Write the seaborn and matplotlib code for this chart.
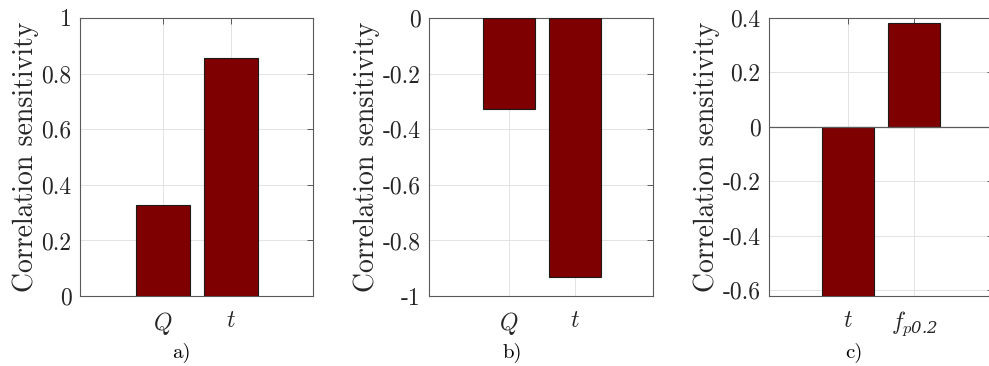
import matplotlib
matplotlib.use("Agg")
import matplotlib.pyplot as plt
import seaborn as sns
import pandas as pd

# ---- data ----
cats_a = ["$Q$", "$t$"]
vals_a = [0.327, 0.855]
cats_b = ["$Q$", "$t$"]
vals_b = [-0.327, -0.93]
cats_c = ["$t$", "$f_{p\\mathsf{0.2}}$"]
vals_c = [-0.63, 0.38]

yticks_a = [0, 0.2, 0.4, 0.6, 0.8, 1]
ylabels_a = ["0", "0.2", "0.4", "0.6", "0.8", "1"]
yticks_b = [-1, -0.8, -0.6, -0.4, -0.2, 0]
ylabels_b = ["-1", "-0.8", "-0.6", "-0.4", "-0.2", "0"]
yticks_c = [-0.6, -0.4, -0.2, 0, 0.2, 0.4]
ylabels_c = ["-0.6", "-0.4", "-0.2", "0", "0.2", "0.4"]
panel_labels = ["a)", "b)", "c)"]

sns.set_theme(style="white")
plt.rcParams["font.family"] = ["cmr10", "DejaVu Serif"]
plt.rcParams["mathtext.fontset"] = "custom"
plt.rcParams["mathtext.rm"] = "cmr10"
plt.rcParams["mathtext.it"] = "cmmi10"
plt.rcParams["mathtext.sf"] = "DejaVu Serif:italic"
plt.rcParams["axes.unicode_minus"] = False

fig = plt.figure(figsize=(9.89, 3.66), dpi=100)

bar_color = "#7f0000"
spine_col = "#5a5a5a"

specs = [
    (cats_a, vals_a, yticks_a, ylabels_a, (0.0, 1.0), (-1.22, 2.21),
     [80 / 989, 0.191, 233 / 989, 0.760]),
    (cats_b, vals_b, yticks_b, ylabels_b, (-1.0, 0.0), (-1.21, 2.18),
     [429 / 989, 0.191, 224 / 989, 0.760]),
    (cats_c, vals_c, yticks_c, ylabels_c, (-0.622, 0.4), (-1.2, 2.2),
     [769 / 989, 0.191, 224 / 989, 0.760]),
]

label_x = [181 / 989, 512 / 989, 854 / 989]

for i, (cats, vals, yt, yl, ylim, xlim, pos) in enumerate(specs):
    ax = fig.add_axes(pos)
    df = pd.DataFrame({"cat": cats, "val": vals})
    sns.barplot(data=df, x="cat", y="val", color=bar_color, saturation=1,
                edgecolor="#1a1a1a", linewidth=0.8, width=0.8, ax=ax, zorder=3)
    ax.set_xlim(*xlim)
    ax.set_ylim(*ylim)
    ax.set_yticks(yt)
    ax.set_yticklabels(yl)
    ax.set_xlabel("")
    ax.set_ylabel("Correlation sensitivity", fontsize=20, color="#262626",
                  labelpad=2)
    ax.grid(True, color="#e3e3e3", linewidth=0.7, zorder=0)
    ax.set_axisbelow(True)
    ax.tick_params(axis="both", direction="in", length=4, width=0.7,
                   colors=spine_col, labelcolor="#262626", labelsize=17,
                   top=True, right=True, pad=6)
    ax.tick_params(axis="x", labelsize=17, pad=10)
    for s in ax.spines.values():
        s.set_color(spine_col)
        s.set_linewidth(0.8)
        s.set_visible(True)
    if ylim[0] < 0 < ylim[1]:
        ax.axhline(0, color=spine_col, linewidth=0.9, zorder=4)
    fig.text(label_x[i], 0.036, panel_labels[i], ha="center", va="center",
             fontsize=15, color="black")

fig.savefig("out.png", dpi=100)
